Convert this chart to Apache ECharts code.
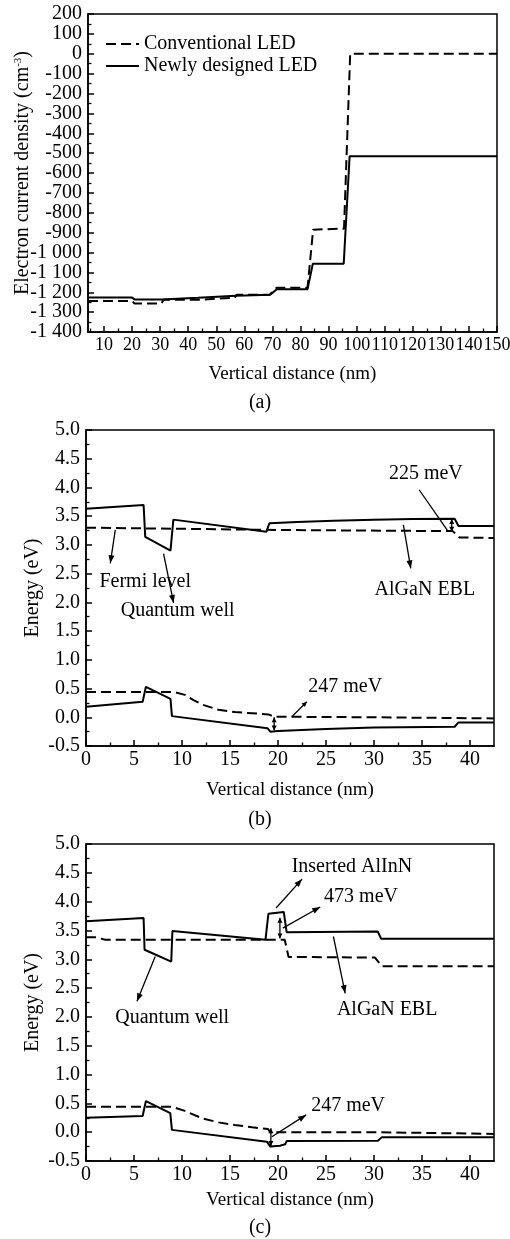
<!DOCTYPE html>
<html><head><meta charset="utf-8">
<script src="https://cdn.jsdelivr.net/npm/echarts@6/dist/echarts.min.js"></script>
<style>html,body{margin:0;padding:0;background:#fff}#c{width:510px;height:1239px}</style>
</head><body><div id="c"></div>
<script>
// ---------- data ----------
const xTicksA = [10,20,30,40,50,60,70,80,90,100,110,120,130,140,150];
const xTickLabelsA = ['10','20','30','40','50','60','70','80','90','100','110','120','130','140','150'];
const xMinorA = [5,15,25,35,45,55,65,75,85,95,105,115,125,135,145];
const yTickLabelsA = ['200','100','0','-100','-200','-300','-400','-500','-600','-700','-800','-900','-1 000','-1 100','-1 200','-1 300','-1 400'];
const legendNames = ['Conventional LED','Newly designed LED'];
const convA = [[4.3,-1244],[20,-1244],[20.8,-1256],[30.5,-1256],[31.2,-1238],[43.2,-1238],[43.8,-1228],[56.5,-1228],[57.3,-1212],[69,-1212],[71.5,-1177],[82.5,-1177],[84.5,-885],[95.5,-880],[97.7,0],[150,0]];
const newA = [[4.3,-1227],[20,-1227],[21,-1237],[30.5,-1237],[31.2,-1228],[43.5,-1228],[44,-1218],[57,-1218],[57.5,-1210],[69.2,-1212],[71.6,-1185],[82.5,-1185],[84.4,-1056],[95.4,-1056],[97.5,-516],[150,-516]];

const xTicksE = [0,5,10,15,20,25,30,35,40];
const xTickLabelsE = ['0','5','10','15','20','25','30','35','40'];
const xMinorE = [2.5,7.5,12.5,17.5,22.5,27.5,32.5,37.5];
const yTickLabelsE = ['-0.5','0.0','0.5','1.0','1.5','2.0','2.5','3.0','3.5','4.0','4.5','5.0'];

const cbB = [[0,3.63],[6.0,3.695],[6.17,3.14],[8.8,2.90],[9.1,3.44],[18.8,3.23],[19.1,3.375],[22,3.40],[25.8,3.42],[30,3.44],[34,3.45],[38.4,3.455],[38.8,3.33],[42.5,3.33]];
const efnB = [[0,3.30],[20,3.26],[38.2,3.24],[38.9,3.13],[42.5,3.12]];
const vbB = [[0,0.185],[5.9,0.27],[6.24,0.53],[8.8,0.32],[8.95,0.02],[18.9,-0.19],[19.2,-0.25],[20,-0.24],[25,-0.205],[30,-0.18],[38.4,-0.165],[38.8,-0.09],[42.5,-0.09]];
const efpB = [[0,0.44],[9.2,0.44],[10.3,0.39],[11.2,0.30],[12.1,0.22],[13.8,0.13],[15.5,0.09],[17.3,0.07],[19.0,0.05],[19.6,0.01],[30,0.0],[42.5,-0.02]];

const cbC = [[0,3.66],[6.0,3.715],[6.1,3.165],[8.88,2.96],[9.0,3.49],[18.7,3.34],[18.9,3.34],[19.0,3.79],[20.6,3.82],[20.9,3.47],[30.4,3.48],[30.75,3.355],[42.5,3.355]];
const efnC = [[0,3.38],[1.0,3.38],[2.0,3.34],[20.7,3.34],[21.1,3.04],[30.1,3.03],[30.8,2.88],[42.5,2.88]];
const vbC = [[0,0.25],[5.9,0.28],[6.24,0.54],[8.78,0.33],[8.95,0.04],[18.84,-0.165],[19.2,-0.25],[20.2,-0.235],[20.75,-0.21],[20.9,-0.155],[30.4,-0.15],[30.8,-0.09],[42.5,-0.09]];
const efpC = [[0,0.44],[8.95,0.44],[10.3,0.37],[12.1,0.24],[13.8,0.17],[15.5,0.125],[17.3,0.085],[18.94,0.056],[19.2,0.0],[30,0.0],[42.5,-0.03]];

const textsB = [['Fermi level',6.17,2.36],['Quantum well',9.55,1.85],['AlGaN EBL',35.3,2.22],['225 meV',35.4,4.23],['247 meV',27.0,0.53]];
const arrowsB = [
  {from:[3.05,3.26],to:[2.53,2.68],head:'end'},
  {from:[8.08,2.85],to:[9.12,1.99],head:'end'},
  {from:[33.06,3.35],to:[33.83,2.59],head:'end'},
  {from:[34.7,3.96],to:[37.74,3.23],head:'none'},
  {from:[38.1,3.45],to:[38.1,3.23],head:'both'},
  {from:[21.44,0.01],to:[23.0,0.27],head:'end'},
  {from:[19.6,0.0],to:[19.6,-0.23],head:'both'}
];
const textsC = [['Inserted AlInN',27.7,4.61],['473 meV',28.65,4.085],['Quantum well',8.98,1.98],['AlGaN EBL',31.37,2.12],['247 meV',27.3,0.455]];
const arrowsC = [
  {from:[19.8,3.89],to:[22.5,4.39],head:'end'},
  {from:[20.5,3.54],to:[24.4,3.906],head:'end'},
  {from:[20.2,3.72],to:[20.2,3.36],head:'both'},
  {from:[7.21,3.05],to:[5.31,2.27],head:'end'},
  {from:[25.77,3.395],to:[27.0,2.41],head:'end'},
  {from:[19.36,-0.08],to:[22.93,0.30],head:'end'},
  {from:[19.26,0.068],to:[19.26,-0.24],head:'both'}
];
const captions = ['(a)','(b)','(c)'];

// ---------- styles ----------
const FONT = 'Liberation Serif';
const BLK = '#000';
const DASH = [10,5];
const lineAx = {show:true, onZero:false, lineStyle:{color:BLK, width:1.5}};

function xMajor(gi, min, max, ticks, labels, gap, fs){
  return {gridIndex:gi, type:'value', min:min, max:max, position:'bottom',
    axisLine:lineAx, splitLine:{show:false},
    axisTick:{show:true, inside:true, length:6, customValues:ticks, lineStyle:{color:BLK,width:1.5}},
    axisLabel:{customValues:ticks, interval:0, color:BLK, fontFamily:FONT, fontSize:fs, margin:4,
      showMaxLabel:true, showMinLabel:true, hideOverlap:false,
      formatter:function(v){const i=ticks.indexOf(v);return i>=0?labels[i]:'';}},
    name:'Vertical distance (nm)', nameLocation:'middle', nameGap:gap, nameMoveOverlap:false,
    nameTextStyle:{color:BLK, fontFamily:FONT, fontSize:19}};
}
function xMinor(gi, min, max, ticks){
  return {gridIndex:gi, type:'value', min:min, max:max, position:'bottom',
    axisLine:{show:false, onZero:false}, splitLine:{show:false}, axisLabel:{show:false},
    axisTick:{show:true, inside:true, length:3.5, customValues:ticks, lineStyle:{color:BLK,width:1.3}}};
}
function yAx(gi, min, max, itv, labels, name, gap, rich){
  return {gridIndex:gi, type:'value', min:min, max:max, interval:itv,
    axisLine:lineAx, splitLine:{show:false},
    axisTick:{show:true, inside:true, length:6, lineStyle:{color:BLK,width:1.5}},
    minorTick:{show:true, splitNumber:2, length:3.5, lineStyle:{color:BLK,width:1.3}},
    minorSplitLine:{show:false},
    axisLabel:{color:BLK, fontFamily:FONT, fontSize:20, margin:6,
      formatter:function(v){const i=Math.round((v-min)/itv);return labels[i]!==undefined?labels[i]:'';}},
    name:name, nameLocation:'middle', nameGap:gap, nameMoveOverlap:false,
    nameTextStyle:Object.assign({color:BLK, fontFamily:FONT, fontSize:20}, rich?{rich:rich}:{})};
}
const yLabA = yTickLabelsA.slice().reverse();
function ser(name, data, xi, yi, dashed){
  return {name:name, type:'line', data:data, xAxisIndex:xi, yAxisIndex:yi,
    symbol:'none', showSymbol:false, animation:false, clip:true,
    lineStyle:{color:BLK, width:2, type: dashed?DASH:'solid'}, itemStyle:{color:BLK}};
}

const chart = echarts.init(document.getElementById('c'), null, {renderer:'canvas'});
const gridBase = {show:true, borderColor:BLK, borderWidth:1.5, backgroundColor:'transparent', containLabel:false, outerBoundsMode:'none'};
chart.setOption({
  backgroundColor:'#fff',
  animation:false,
  grid:[
    Object.assign({left:88, right:13, top:14, height:318}, gridBase),
    Object.assign({left:86, right:16, top:430, height:316}, gridBase),
    Object.assign({left:86, right:16, top:844, height:317}, gridBase)
  ],
  legend:{data:legendNames, orient:'vertical', left:100, top:29, itemWidth:33, itemHeight:14, itemGap:2,
    itemStyle:{opacity:0}, textStyle:{color:BLK, fontFamily:FONT, fontSize:20}},
  xAxis:[
    xMajor(0, 4.3, 150, xTicksA, xTickLabelsA, 33, 18),
    xMinor(0, 4.3, 150, xMinorA),
    xMajor(1, 0, 42.5, xTicksE, xTickLabelsE, 35, 20),
    xMinor(1, 0, 42.5, xMinorE),
    xMajor(2, 0, 42.5, xTicksE, xTickLabelsE, 30, 20),
    xMinor(2, 0, 42.5, xMinorE)
  ],
  yAxis:[
    yAx(0, -1400, 200, 100, yLabA, 'Electron current density (cm{sup|-3})', 55,
      {sup:{fontSize:11, fontFamily:FONT, color:BLK, verticalAlign:'top', lineHeight:12}}),
    yAx(1, -0.5, 5.0, 0.5, yTickLabelsE, 'Energy (eV)', 43),
    yAx(2, -0.5, 5.0, 0.5, yTickLabelsE, 'Energy (eV)', 43)
  ],
  series:[
    ser(legendNames[0], convA, 0, 0, true),
    ser(legendNames[1], newA, 0, 0, false),
    ser('CB b', cbB, 2, 1, false),
    ser('EFn b', efnB, 2, 1, true),
    ser('VB b', vbB, 2, 1, false),
    ser('EFp b', efpB, 2, 1, true),
    ser('CB c', cbC, 4, 2, false),
    ser('EFn c', efnC, 4, 2, true),
    ser('VB c', vbC, 4, 2, false),
    ser('EFp c', efpC, 4, 2, true)
  ]
});

// ---------- annotations ----------
const els = [];
function headEl(tip, from, len, w){
  const dx=tip[0]-from[0], dy=tip[1]-from[1], L=Math.hypot(dx,dy)||1;
  const ux=dx/L, uy=dy/L, bx=tip[0]-ux*len, by=tip[1]-uy*len;
  return {type:'polygon', shape:{points:[[tip[0],tip[1]],[bx-uy*w,by+ux*w],[bx+uy*w,by-ux*w]]}, style:{fill:BLK}};
}
function addArrow(gi, a){
  const p1 = chart.convertToPixel({gridIndex:gi}, a.from);
  const p2 = chart.convertToPixel({gridIndex:gi}, a.to);
  els.push({type:'line', shape:{x1:p1[0],y1:p1[1],x2:p2[0],y2:p2[1]}, style:{stroke:BLK, lineWidth:1.3}});
  const short = Math.hypot(p2[0]-p1[0], p2[1]-p1[1]) < 30;
  const len = short?5:8, w = short?2.5:3;
  if (a.head==='end'||a.head==='both') els.push(headEl(p2,p1,len,w));
  if (a.head==='both') els.push(headEl(p1,p2,len,w));
}
function addText(gi, t){
  const p = chart.convertToPixel({gridIndex:gi}, [t[1],t[2]]);
  els.push({type:'text', x:p[0], y:p[1], style:{text:t[0], font:'20px "'+FONT+'"', fill:BLK,
    align:'center', verticalAlign:'middle', textAlign:'center', textVerticalAlign:'middle'}});
}
textsB.forEach(t=>addText(1,t)); arrowsB.forEach(a=>addArrow(1,a));
textsC.forEach(t=>addText(2,t)); arrowsC.forEach(a=>addArrow(2,a));
const capPos = [[260,403],[260,820],[260,1228]];
captions.forEach((c,i)=>els.push({type:'text', x:capPos[i][0], y:capPos[i][1], style:{text:c, font:'20px "'+FONT+'"', fill:BLK,
  align:'center', verticalAlign:'middle', textAlign:'center', textVerticalAlign:'middle'}}));
chart.setOption({graphic:els});
</script></body></html>
